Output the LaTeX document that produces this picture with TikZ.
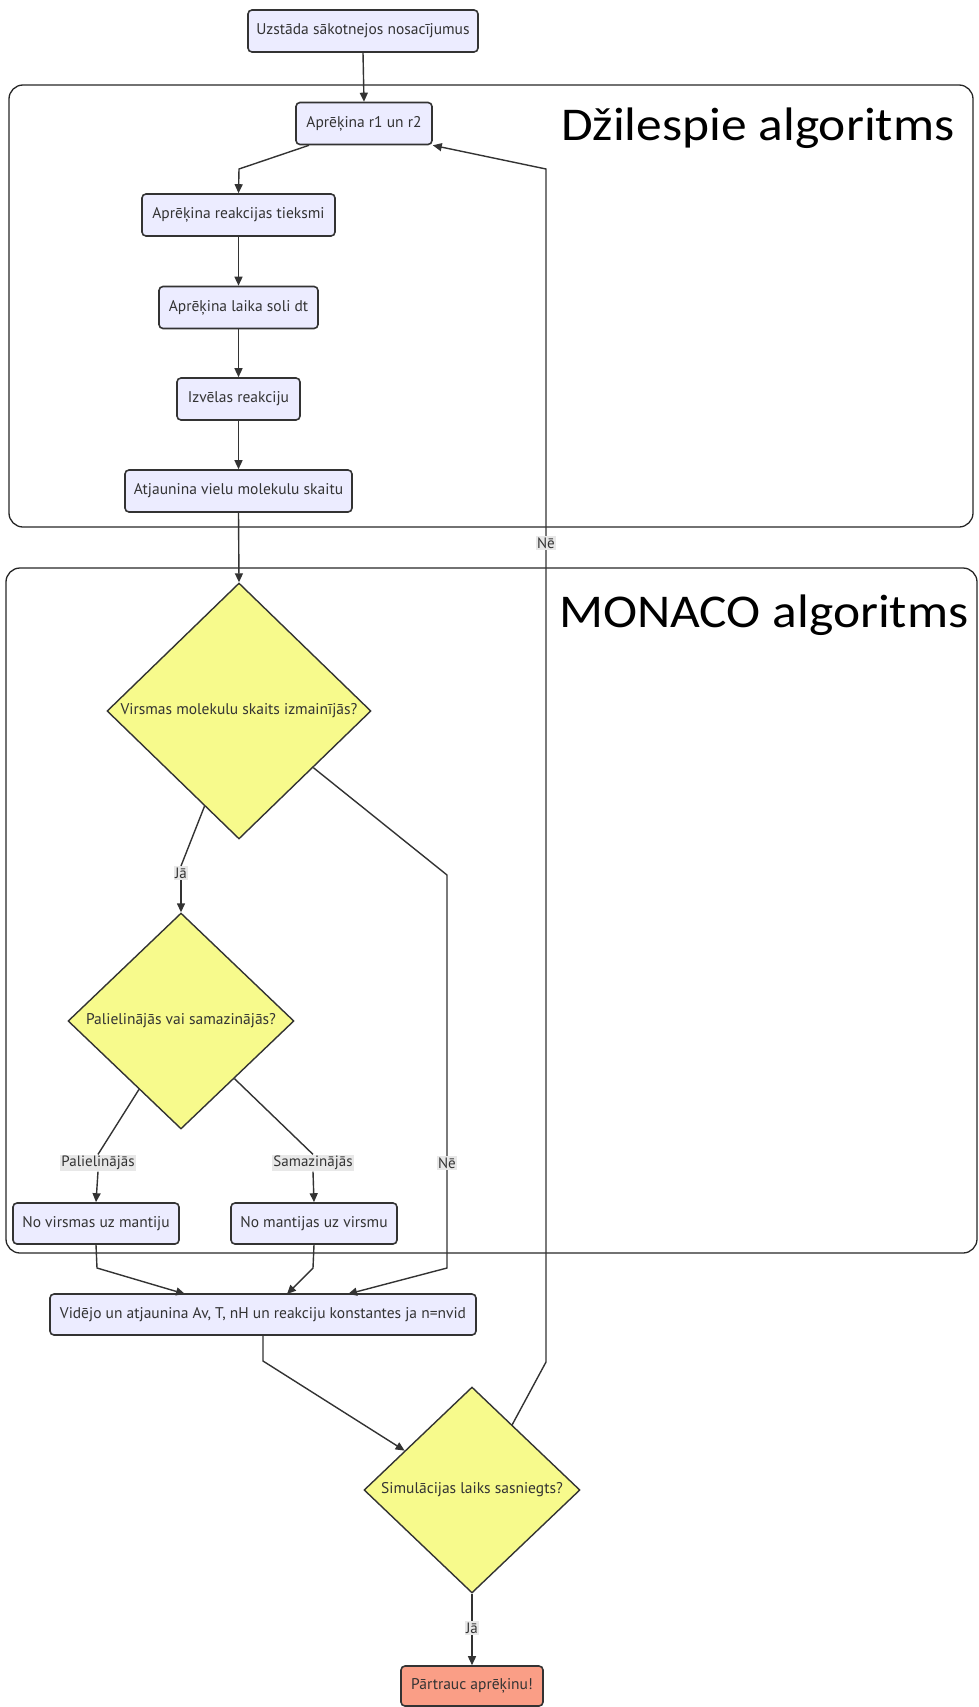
\documentclass[tikz,border=0pt]{standalone}
\usepackage{fontspec}
\setmainfont{PT Sans}
\newfontfamily\titlefont[FakeStretch=1.095]{Carlito}
\usetikzlibrary{shapes.geometric,arrows.meta,calc}

\definecolor{boxfill}{HTML}{ECECFF}
\definecolor{boxline}{HTML}{333333}
\definecolor{decfill}{HTML}{F7FA8C}
\definecolor{endfill}{HTML}{FA9E86}
\definecolor{lblfill}{HTML}{E8E8E8}
\definecolor{edgecol}{HTML}{333333}
\definecolor{txt}{HTML}{333333}

\begin{document}
\begin{tikzpicture}[x=1pt,y=-1pt,
  proc/.style={draw=boxline, line width=1.6pt, fill=boxfill, rounded corners=4pt,
    text=txt, font=\fontsize{15.5}{18}\selectfont, minimum height=42pt, inner sep=0pt},
  stopbox/.style={proc, fill=endfill},
  decision/.style={diamond, aspect=1, draw=boxline, line width=1.4pt, fill=decfill,
    inner sep=0pt, text=txt, font=\fontsize{15.5}{18}\selectfont},
  cluster/.style={draw=black!85, line width=1.3pt, rounded corners=14pt},
  title/.style={anchor=base west, inner sep=0pt, font=\titlefont\fontsize{47}{50}\selectfont},
  flow/.style={draw=edgecol, line width=1.4pt, -{Triangle[length=9pt,width=8pt]}},
  plain/.style={draw=edgecol, line width=1.4pt},
  lbl/.style={fill=lblfill, text=txt, inner sep=1.5pt, font=\fontsize{15}{17}\selectfont}
]
\useasboundingbox (0,0) rectangle (978,1707);

% subgraph frames
\draw[cluster] (9,85) rectangle (973,527);
\draw[cluster] (6,568) rectangle (977,1253);
\node[title] (tg) at (561,141) {Džilespie algoritms};
\node[title] (tm) at (559,627) {MONACO algoritms};

% nodes
\node[proc, minimum width=230pt] (start) at (363,31) {Uzstāda sākotnejos nosacījumus};
\node[proc, minimum width=136pt] (r12) at (364,123.5) {Aprēķina r1 un r2};
\node[proc, minimum width=193pt] (tiek) at (238.5,215) {Aprēķina reakcijas tieksmi};
\node[proc, minimum width=159pt] (dt) at (238.5,307.5) {Aprēķina laika soli dt};
\node[proc, minimum width=123pt] (izv) at (238.5,399) {Izvēlas reakciju};
\node[proc, minimum width=227pt] (atj) at (238.5,491) {Atjaunina vielu molekulu skaitu};

\node[decision, minimum width=264pt, minimum height=256pt] (d1) at (239,711) {Virsmas molekulu skaits izmainījās?};
\node[decision, minimum width=226pt, minimum height=216pt] (d2) at (181,1021) {Palielinājās vai samazinājās?};

\node[proc, minimum width=166pt, minimum height=41pt] (lft) at (96,1223.5) {No virsmas uz mantiju};
\node[proc, minimum width=166pt, minimum height=41pt] (rgt) at (314,1223.5) {No mantijas uz virsmu};
\node[proc, minimum width=426pt, minimum height=41pt] (vid) at (263,1314.5) {Vidējo un atjaunina Av, T, nH un reakciju konstantes ja n=nvid};

\node[decision, minimum width=216pt, minimum height=206pt] (d3) at (472,1490) {Simulācijas laiks sasniegts?};
\node[stopbox, minimum width=142pt, minimum height=40pt] (stop) at (472,1686) {Pārtrauc aprēķinu!};

% edge labels
\node[lbl] (ja1) at (181,873) {Jā};
\node[lbl] (ne1) at (447,1163) {Nē};
\node[lbl] (pal) at (98,1163) {Palielinājās};
\node[lbl] (sam) at (313,1163) {Samazinājās};
\node[lbl] (ja3) at (472,1628) {Jā};
\node[lbl] (ne3) at (546,543) {Nē};

% connectors
\draw[flow] (start.south) -- (r12.north);
\draw[flow] ([xshift=-55pt]r12.south) -- (239,169) -- (tiek.north);
\draw[flow] (tiek.south) -- (dt.north);
\draw[flow] (dt.south) -- (izv.north);
\draw[flow] (izv.south) -- (atj.north);
\draw[flow] (atj.south) -- (d1.north);

\draw[plain] ($(d1.west)!0.74!(d1.south)$) -- (ja1.north);
\draw[flow] (ja1.south) -- (d2.north);

\draw[plain] ($(d1.east)!0.44!(d1.south)$) -- (447,875) -- (ne1.north);
\draw[flow] (ne1.south) -- (447,1268) -- (348,1294);

\draw[plain] ($(d2.west)!0.63!(d2.south)$) -- (pal.north);
\draw[flow] (pal.south) -- (lft.north);
\draw[plain] ($(d2.east)!0.53!(d2.south)$) -- (sam.north);
\draw[flow] (sam.south) -- (rgt.north);

\draw[flow] (lft.south) -- (97,1268) -- (185,1294);
\draw[flow] (rgt.south) -- (313,1268) -- (287,1294);

\draw[flow] (vid.south) -- (263,1361) -- ($(d3.west)!0.38!(d3.north)$);

\draw[plain] (d3.south) -- (ja3.north);
\draw[flow] (ja3.south) -- (stop.north);

\draw[plain] ($(d3.north)!0.37!(d3.east)$) -- (546,1362) -- (ne3.south);
\draw[flow] (ne3.north) -- (546,169) -- (r12.south east);
\end{tikzpicture}
\end{document}
